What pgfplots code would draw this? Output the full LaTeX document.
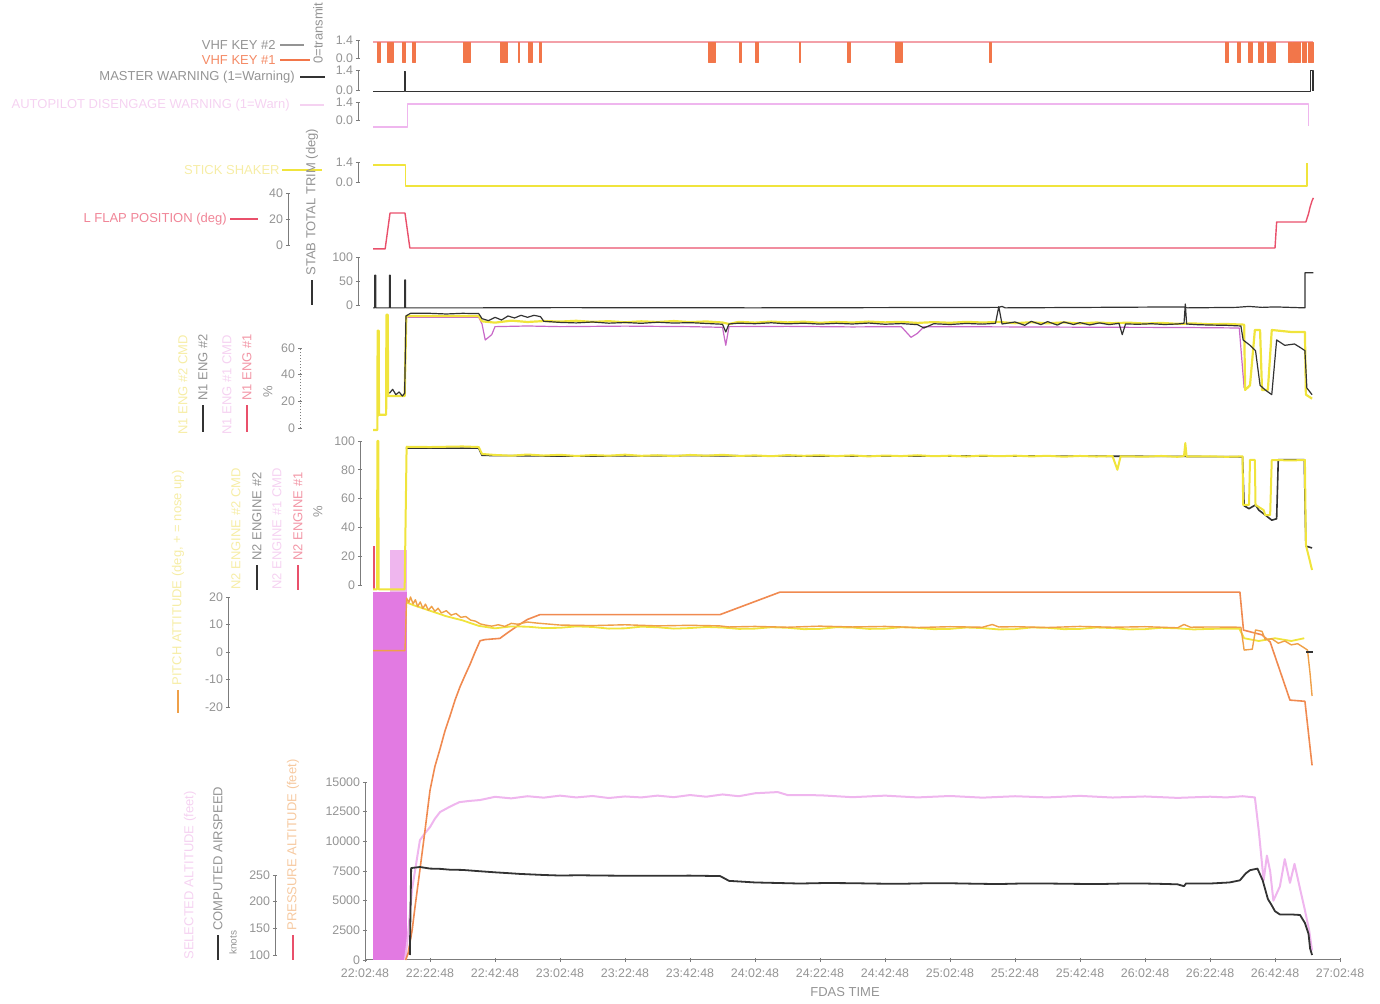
\documentclass[border=0pt]{standalone}
\usepackage{fontspec}
\setmainfont{Liberation Sans}
\usepackage{pgfplots}
\pgfplotsset{compat=1.18}
\definecolor{txtgray}{HTML}{949494}
\definecolor{axgray}{HTML}{7C7C7C}
\definecolor{blk}{HTML}{333333}
\definecolor{vorange}{HTML}{F2764A}
\definecolor{vred}{HTML}{F3A0A8}
\definecolor{fred}{HTML}{E9506B}
\definecolor{yel}{HTML}{F0E43C}
\definecolor{yelfaint}{HTML}{F6EDA6}
\definecolor{pinkl}{HTML}{EFB6EE}
\definecolor{pinkfaint}{HTML}{F5D2F1}
\definecolor{magfill}{HTML}{E27AE2}
\definecolor{magl}{HTML}{C868C8}
\definecolor{orng}{HTML}{EFA048}
\definecolor{altor}{HTML}{F08A50}
\definecolor{orfaint}{HTML}{F6C9A0}
\pgfplotsset{
  every axis plot/.append style={line join=round},
  dataax/.style={scale only axis, width=487.5pt, xmin=0, xmax=300, clip=false, hide axis, anchor=south west},
  scaleax/.style={scale only axis, width=1pt, xmin=0, xmax=1, clip=false, anchor=south west,
    axis x line=none, axis y line*=left, axis line style={axgray, line width=0.5pt},
    ytick style={axgray, line width=0.4pt}, major tick length=2.2pt, tick align=center,
    yticklabel style={font=\fontsize{6.2}{7}\selectfont, text=txtgray, inner sep=1.2pt},
    scaled y ticks=false,
    /pgf/number format/assume math mode=true, /pgf/number format/1000 sep={}},
}
\tikzset{lbl/.style={font=\fontsize{6.5}{7}\selectfont, inner sep=0pt}}
\newcommand{\vb}[2]{\addplot[fill=vorange, draw=vorange, line width=0.2pt] coordinates {(#1,-0.31)(#1,1.24)(#2,1.24)(#2,-0.31)} -- cycle;}
\begin{document}
\begin{tikzpicture}
\path[use as bounding box] (0pt,0pt) rectangle (690pt,502pt);

% ---------- P10: altitude / airspeed ----------
\begin{axis}[scale only axis, width=487.5pt, height=89pt, at={(182.5pt,22pt)}, anchor=south west,
  xmin=0, xmax=300, ymin=0, ymax=15000, clip=false,
  axis x line*=bottom, axis y line*=left, axis line style={axgray, line width=0.5pt},
  tick style={axgray, line width=0.4pt}, major tick length=2.2pt, tick align=center,
  scaled y ticks=false,
  xtick={0,20,...,300},
  xticklabels={22:02:48,22:22:48,22:42:48,23:02:48,23:22:48,23:42:48,24:02:48,24:22:48,24:42:48,25:02:48,25:22:48,25:42:48,26:02:48,26:22:48,26:42:48,27:02:48},
  ytick={0,2500,5000,7500,10000,12500,15000},
  ticklabel style={font=\fontsize{6.2}{7}\selectfont, text=txtgray, inner sep=1.2pt},
  xticklabel style={yshift=-1.8pt},
  /pgf/number format/assume math mode=true, /pgf/number format/1000 sep={}]
\addplot[fill=magfill, draw=none] coordinates {(2.5,0)(2.5,31000)(12.9,31000)(12.9,0)} -- cycle;
\addplot[fill=pinkl, draw=none] coordinates {(7.7,31000)(7.7,34550)(12.9,34550)(12.9,31000)} -- cycle;
\addplot[pinkl, line width=1pt] coordinates {(12.3,0)(13,1500)(14.5,6000)(16.9,10100)(18.5,10700)(20,11200)(21.5,11900)(23.1,12470)(26,12900)(29,13300)(32,13400)(35.4,13480)(40,13750)(45,13620)(50,13800)(55,13680)(60,13850)(65,13700)(70,13820)(75,13650)(80,13780)(85,13700)(90,13850)(95,13720)(100,13900)(105,13760)(110,13950)(115,13800)(120,14050)(127,14150)(130,13900)(140,13880)(150,13720)(160,13850)(170,13700)(180,13820)(190,13680)(200,13800)(210,13700)(220,13830)(230,13690)(240,13780)(250,13660)(260,13760)(265,13700)(270,13800)(273.8,13700)(275,10900)(276.5,6700)(277.5,8800)(278.5,7500)(279.5,5000)(281.5,6200)(283,8500)(284.6,6500)(286,8100)(287.7,6000)(289.2,4200)(290.5,2500)(291.4,800)};
\addplot[altor, line width=0.8pt] coordinates {(12.5,0)(13.2,500)(14.5,2500)(15.4,4500)(16.9,7600)(18.5,11000)(20,14300)(21.5,16300)(23.1,17800)(24.6,19300)(26.2,20600)(27.7,21900)(29.2,23000)(30.8,24000)(32.3,24900)(33.8,25900)(35.4,26900)(36.9,27000)(41.5,27100)(44,27600)(47.7,28300)(50,28700)(53.8,29100)(60,29100)(109.2,29100)(127.7,31000)(269.2,31000)(270.3,27800)(276,27400)(278.5,26800)(284.6,21900)(289.2,21800)(291.4,16400)};
\end{axis}
\begin{axis}[dataax, at={(182.5pt,24.5pt)}, height=40pt, ymin=100, ymax=250]
\addplot[blk, line width=0.9pt] coordinates {(13.8,100)(14.2,263)(16.9,265)(20,262)(23.1,261.5)(26,260)(30,259.5)(35.4,257)(40,255)(44,253.5)(47.7,252)(55,250)(60,249)(66,249.5)(72,249)(80,248.6)(90,248.5)(100,248.8)(109.2,248)(110.5,244)(112,239)(120,236)(127,235)(133.8,234)(142,235)(150,234.6)(158,233.8)(165,233.5)(172,234.4)(180,234.5)(188,233.6)(195,233)(203,234.2)(210,234)(218,233.4)(226,233)(233,234)(240,234)(246,233.2)(250,232.5)(252,229)(252.6,234)(260,234)(266,236)(269.2,240)(271,253)(272.3,259)(274.6,262)(276.2,240)(277.8,205)(279,193)(280,182)(281.5,176)(285,176)(287.7,175)(289.2,160)(290.3,140)(290.8,112)(291.4,100)};
\end{axis}
\begin{axis}[scaleax, at={(137.5pt,24.5pt)}, height=40pt, ymin=100, ymax=250, ytick={100,150,200,250}]
\end{axis}

% ---------- P9: attitude ----------
\begin{axis}[dataax, at={(182.5pt,148.5pt)}, height=55pt, ymin=-20, ymax=20]
\addplot[yel, line width=0.9pt] coordinates {(12.8,18)(15,17)(20,15)(25,13)(30,11.5)(35,9.5)(40,8.6)(45,9.3)(50,9.2)(55,8.7)(60,8.8)(65,9.3)(70,9.1)(75,8.5)(80,8.6)(85,9.2)(90,9.0)(95,8.5)(100,8.7)(105,9.1)(110,8.9)(115,8.4)(120,8.5)(125,9.0)(130,8.8)(135,8.3)(140,8.4)(145,9.0)(150,8.9)(155,8.4)(160,8.5)(165,9.0)(170,8.8)(175,8.3)(180,8.4)(185,8.9)(190,8.7)(195,8.2)(200,8.3)(205,8.9)(210,8.8)(215,8.3)(220,8.4)(225,8.9)(230,8.7)(235,8.2)(240,8.3)(245,8.8)(250,8.6)(255,8.2)(260,8.4)(269,8.5)(270.5,5)(275,4)(280,5)(285,4)(289,5)};
\addplot[orng, line width=0.7pt] coordinates {(2.5,0.5)(12.3,0.5)(12.8,19.6)(13.5,18)(14,20)(14.8,17.5)(15.5,19)(16.2,16.5)(17,18.2)(17.8,15.8)(18.6,17.4)(19.5,15.2)(20.5,16.6)(21.5,14.8)(22.5,15.9)(23.5,14.2)(25,15)(26.5,13.4)(28,14)(29.5,12.6)(31,12.9)(32.5,11.6)(34,11.2)(35.5,10.2)(37,9.8)(39,9.4)(41,9.9)(43,9.3)(45,10.4)(47,10.1)(50,10.9)(53,10.5)(56,10.2)(60,9.8)(70,9.6)(80,9.9)(90,9.5)(100,9.7)(109,9.5)(112,9.1)(120,9.3)(130,9.0)(140,9.4)(150,9.1)(160,9.3)(170,8.9)(180,9.2)(190,9.0)(193,10)(195,9.1)(200,9.2)(210,8.9)(220,9.3)(230,9.0)(240,9.2)(250,8.8)(252,10)(254,9)(260,9.1)(269.5,9)(270.5,0.7)(273,1)(274,8)(276,7.5)(277,4.5)(279,4.8)(281,3.2)(283,4)(285,2.6)(287,3)(289,1.5)(290,0.7)(290.8,-8)(291.4,-16)};
\addplot[blk, line width=0.7pt] coordinates {(289.5,0)(291.8,0)};
\end{axis}
\begin{axis}[scaleax, at={(114pt,148.5pt)}, height=55pt, ymin=-20, ymax=20, ytick={-20,-10,0,10,20}]
\end{axis}

% ---------- P8: N2 ----------
\begin{axis}[dataax, at={(182.5pt,209.5pt)}, height=72pt, ymin=0, ymax=100]
\addplot[fred, line width=0.7pt] coordinates {(2.8,-3)(2.8,27)};
\addplot[blk, line width=0.8pt] coordinates {(12.6,95)(35,95)(36,90)(60,89.5)(100,89.8)(150,89.5)(200,89.6)(250,89.3)(270,89)(270.5,55)(272,53)(274,55.6)(275,52)(277,48.6)(279,45)(280.5,46)(281,87)(289,87)(289.5,27)(291.4,25.7)};
\addplot[yel, line width=1pt] coordinates {(2.5,-3)(3.7,-3)(3.8,100)(4.1,100)(4.2,-3)(12.2,-3)(12.8,96)(20,95.8)(30,96.2)(35,95.8)(36,91)(40,90.3)(45,89.8)(50,90.6)(55,89.9)(60,90.4)(65,89.6)(70,90.2)(75,89.8)(80,90.5)(85,89.7)(90,90.1)(95,89.5)(100,90.3)(105,89.8)(110,90.4)(115,89.6)(120,90)(125,89.4)(130,90.2)(135,89.7)(140,90.1)(145,89.5)(150,90)(155,89.3)(160,89.9)(165,89.5)(170,90.1)(175,89.4)(180,89.8)(185,89.2)(190,89.9)(195,89.4)(200,89.8)(205,89.3)(210,89.7)(215,89.1)(220,89.6)(225,89.2)(230,89.5)(231.5,80)(232.5,89.4)(240,89.1)(245,89.6)(250,89)(252,89.5)(252.4,98.6)(252.8,89.2)(260,89.4)(265,89)(270,89.3)(270.2,55.6)(272,55.6)(272.3,86.8)(273.8,86.8)(274,55.6)(276.5,52)(277,48.6)(278.5,48.6)(279,86.8)(285,86.5)(289.2,86.8)(289.5,27.8)(291.4,10.4)};
\end{axis}
\begin{axis}[scaleax, at={(180pt,209.5pt)}, height=72pt, ymin=0, ymax=100, ytick={0,20,40,60,80,100}]
\end{axis}

% ---------- P7: N1 ----------
\begin{axis}[dataax, at={(182.5pt,288pt)}, height=40pt, ymin=0, ymax=60]
\addplot[magl, line width=0.6pt] coordinates {(13,83)(35,83)(36,78)(37,66)(39,70)(40,76)(50,76.5)(60,76)(80,76.4)(100,76)(110,75.5)(111,62)(112,76)(130,76.2)(150,75.8)(165,76)(168,68)(170,71)(172,76)(200,75.8)(230,75.5)(250,75.4)(269,75)(270.5,30)};
\addplot[yel, line width=1.1pt] coordinates {(2.5,-1.5)(3.8,-1.5)(3.9,73)(4.2,73)(4.3,10)(6.5,10)(6.6,85)(7.0,85)(7.1,24)(12.2,24)(12.7,84)(35,84)(36,80)(40,79)(45,80.5)(50,79.5)(55,80.2)(60,79.8)(65,80.4)(70,79.6)(75,80.1)(80,79.3)(85,80)(90,79.5)(95,80.2)(100,79.4)(105,79.9)(110,79.1)(112,78)(115,79.6)(120,79)(125,79.8)(130,79.2)(135,79.7)(140,78.9)(145,79.5)(150,79.1)(155,79.8)(160,79.2)(165,79.6)(170,78.8)(175,79.4)(180,78.9)(185,79.6)(190,79.1)(195,79.5)(200,78.6)(205,79.3)(210,78.5)(215,79.2)(220,78.4)(225,79.1)(230,78.6)(235,79)(240,78.3)(245,78.8)(250,78.1)(255,78.4)(260,77.8)(265,78)(270.5,77.5)(270.8,28.5)(272.3,32)(273.8,73.5)(275.4,73.5)(276,28.5)(277.8,28.5)(279,73.5)(285,72)(289.2,72)(289.5,25)(291.4,22)};
\addplot[blk, line width=0.6pt] coordinates {(7.5,26)(8.5,29)(9.5,25)(10.5,27)(11.5,24)(12.2,26)(12.6,84)(14,86)(20,86)(25,85.5)(30,86)(35,85.8)(36,82)(38,80.5)(40,83)(42,81)(44,84)(46,82.5)(48,84.5)(50,83)(52,84.5)(54,83.5)(55,80)(60,79.2)(65,78.8)(70,79.5)(75,78.6)(80,79.1)(85,78.5)(90,79.3)(95,78.7)(100,79.0)(105,78.4)(110,77.8)(111,72)(112,78)(115,78.6)(120,78.2)(125,78.9)(130,78.1)(135,78.6)(140,77.9)(145,78.5)(150,78.0)(155,78.7)(160,77.8)(165,78.3)(170,77.5)(172,75)(175,78.2)(180,77.6)(185,78.4)(190,77.9)(194,78.5)(195,91)(196,78)(200,79.5)(203,77)(205,80)(208,77.5)(210,79.8)(213,77.2)(215,79.5)(218,77.6)(220,79)(223,77.3)(226,78.8)(229,77.5)(232,78.5)(233,70)(234,78)(238,77.8)(242,78.2)(246,77.6)(250,78)(252,78.5)(252.4,93)(252.8,78)(256,77.5)(260,77.2)(265,77)(269.5,76.5)(270.2,66)(272.3,62)(274,58)(275.4,32)(277,28.5)(279,25)(280.5,66)(283,62)(286,63)(288,60)(289.2,58)(289.8,30)(291.4,25)};
\end{axis}
\begin{axis}[scaleax, at={(150pt,288pt)}, height=40pt, ymin=0, ymax=60, ytick={0,20,40,60}, axis line style={axgray, line width=0.5pt, densely dotted}]
\end{axis}

% ---------- P6 ----------
\begin{axis}[dataax, at={(182.5pt,349.5pt)}, height=24pt, ymin=0, ymax=100]
\addplot[blk, line width=0.6pt] coordinates {(2.5,-6)(3.0,-6)(3.0,62)(3.3,62)(3.3,-6)(7.5,-6)(7.5,62)(7.8,62)(7.8,-6)(12.2,-6)(12.2,52)(12.5,52)(12.5,-6)(35,-6)(60,-5.5)(120,-6)(195,-5)(196,-3)(197,-6)(252,-4)(253,-6)(268,-5)(272,-3)(276,-5)(280,-4)(289.2,-6)(289.2,67)(291.8,67)};
\end{axis}
\begin{axis}[scaleax, at={(179pt,349.5pt)}, height=24pt, ymin=0, ymax=100, ytick={0,50,100}]
\end{axis}

% ---------- P5 flap ----------
\begin{axis}[dataax, at={(182.5pt,379.5pt)}, height=26pt, ymin=0, ymax=40]
\addplot[fred, line width=0.7pt] coordinates {(2.5,-3)(6.2,-3)(7.7,24.6)(12.3,24.6)(13.8,-2.3)(280,-2.3)(280.5,17.7)(289.5,17.7)(290.3,24)(290.8,29.2)(291.4,34)(291.8,36.2)};
\end{axis}
\begin{axis}[scaleax, at={(144pt,379.5pt)}, height=26pt, ymin=0, ymax=40, ytick={0,20,40}]
\end{axis}

% ---------- P4 yellow ----------
\begin{axis}[dataax, at={(182.5pt,411pt)}, height=10pt, ymin=0, ymax=1.4]
\addplot[yel, line width=0.7pt] coordinates {(2.5,1.19)(12.5,1.19)(12.5,-0.28)(289.8,-0.28)(289.8,1.3)};
\end{axis}
\begin{axis}[scaleax, at={(179pt,411pt)}, height=10pt, ymin=0, ymax=1.4, ytick={0,1.4}, yticklabels={0.0,1.4}]
\end{axis}

% ---------- P3 pink ----------
\begin{axis}[dataax, at={(182.5pt,442pt)}, height=9pt, ymin=0, ymax=1.4]
\addplot[pinkl, line width=0.6pt] coordinates {(2.5,-0.54)(13.0,-0.54)(13.0,1.24)(290.2,1.24)(290.2,-0.5)};
\end{axis}
\begin{axis}[scaleax, at={(179pt,442pt)}, height=9pt, ymin=0, ymax=1.4, ytick={0,1.4}, yticklabels={0.0,1.4}]
\end{axis}

% ---------- P2 master warning ----------
\begin{axis}[dataax, at={(182.5pt,457pt)}, height=10pt, ymin=0, ymax=1.4]
\addplot[blk, line width=0.7pt] coordinates {(2.5,-0.1)(12.2,-0.1)(12.2,1.3)(12.5,1.3)(12.5,-0.1)(291.0,-0.1)(291.0,1.35)(291.7,1.35)(291.7,-0.1)};
\end{axis}
\begin{axis}[scaleax, at={(179pt,457pt)}, height=10pt, ymin=0, ymax=1.4, ytick={0,1.4}, yticklabels={0.0,1.4}]
\end{axis}

% ---------- P1 VHF keys ----------
\begin{axis}[dataax, at={(182.5pt,473pt)}, height=9pt, ymin=0, ymax=1.4]
\addplot[vred, line width=0.6pt] coordinates {(2.5,1.24)(291.7,1.24)};
\vb{3.7}{4.6}\vb{6.8}{8.6}\vb{11.4}{12.3}\vb{14.5}{15.4}\vb{30.2}{32.3}\vb{41.5}{43.7}
\vb{47.0}{47.5}\vb{50.2}{51.4}\vb{53.6}{54.1}\vb{105.5}{107.7}\vb{115.2}{115.7}\vb{120.0}{120.9}
\vb{133.6}{134.0}\vb{148.3}{149.2}\vb{163.1}{165.2}\vb{192.1}{192.6}
\vb{264.6}{265.5}\vb{268.3}{269.2}\vb{271.7}{272.9}\vb{274.8}{276.3}\vb{277.5}{280.0}
\vb{284.0}{285.2}\vb{285.5}{287.7}\vb{288.3}{289.5}\vb{290.2}{291.7}
\end{axis}
\begin{axis}[scaleax, at={(179pt,473pt)}, height=9pt, ymin=0, ymax=1.4, ytick={0,1.4}, yticklabels={0.0,1.4}]
\end{axis}

% ---------- labels ----------
\node[lbl, rotate=90, anchor=west, text=txtgray] at (159pt,470pt) {0=transmit};
\node[lbl, anchor=east, text=txtgray] at (138pt,479.5pt) {VHF KEY \#2};
\draw[txtgray, line width=0.6pt] (140pt,479.5pt) -- (152pt,479.5pt);
\node[lbl, anchor=east, text=vorange!85] at (138pt,472pt) {VHF KEY \#1};
\draw[vorange, line width=0.8pt] (140pt,472pt) -- (155pt,472pt);
\node[lbl, anchor=east, text=txtgray] at (147.5pt,463.5pt) {MASTER WARNING (1=Warning)};
\draw[blk, line width=1pt] (150pt,463.5pt) -- (162.5pt,463.5pt);
\node[lbl, anchor=east, text=pinkfaint] at (145pt,449.5pt) {AUTOPILOT DISENGAGE WARNING (1=Warn)};
\draw[pinkfaint, line width=0.8pt] (150pt,449.5pt) -- (162pt,449.5pt);
\node[lbl, anchor=east, text=yelfaint] at (140pt,417pt) {STICK SHAKER};
\draw[yel, line width=0.8pt] (141pt,417pt) -- (161pt,417pt);
\node[lbl, anchor=east, text=fred!70] at (113.5pt,392.5pt) {L FLAP POSITION (deg)};
\draw[fred, line width=0.8pt] (115pt,392.5pt) -- (129pt,392.5pt);
\draw[blk, line width=0.8pt] (156pt,349.5pt) -- (156pt,362pt);
\node[lbl, rotate=90, anchor=west, text=txtgray] at (156pt,364pt) {STAB TOTAL TRIM (deg)};

% N1 labels
\node[lbl, rotate=90, anchor=west, text=yelfaint] at (91.5pt,284.5pt) {N1 ENG \#2 CMD};
\draw[blk, line width=1pt] (101.5pt,286pt) -- (101.5pt,299.5pt);
\node[lbl, rotate=90, anchor=west, text=txtgray] at (101.5pt,301.5pt) {N1 ENG \#2};
\node[lbl, rotate=90, anchor=west, text=pinkfaint] at (113.5pt,284.5pt) {N1 ENG \#1 CMD};
\draw[fred, line width=1pt] (123.5pt,286pt) -- (123.5pt,299.5pt);
\node[lbl, rotate=90, anchor=west, text=fred!60] at (123.5pt,301.5pt) {N1 ENG \#1};
\node[lbl, rotate=90, text=txtgray] at (134pt,306pt) {\%};

% N2 labels
\node[lbl, rotate=90, anchor=west, text=yelfaint] at (118pt,207pt) {N2 ENGINE \#2 CMD};
\draw[blk, line width=1pt] (128.5pt,207pt) -- (128.5pt,219.5pt);
\node[lbl, rotate=90, anchor=west, text=txtgray] at (128.5pt,221.5pt) {N2 ENGINE \#2};
\node[lbl, rotate=90, anchor=west, text=pinkfaint] at (138.5pt,207pt) {N2 ENGINE \#1 CMD};
\draw[fred, line width=1pt] (149pt,207pt) -- (149pt,219.5pt);
\node[lbl, rotate=90, anchor=west, text=fred!60] at (149pt,221.5pt) {N2 ENGINE \#1};
\node[lbl, rotate=90, text=txtgray] at (159pt,246pt) {\%};

% attitude label
\draw[orng, line width=1pt] (89pt,145.5pt) -- (89pt,157pt);
\node[lbl, rotate=90, anchor=west, text=yelfaint] at (89pt,159pt) {PITCH ATTITUDE (deg, + = nose up)};

% bottom labels
\node[lbl, rotate=90, anchor=west, text=pinkfaint] at (95pt,22pt) {SELECTED ALTITUDE (feet)};
\draw[blk, line width=1pt] (109pt,22pt) -- (109pt,34.5pt);
\node[lbl, rotate=90, anchor=west, text=txtgray] at (109pt,36.5pt) {COMPUTED AIRSPEED};
\node[rotate=90, anchor=west, inner sep=0pt, font=\fontsize{5}{6}\selectfont, text=txtgray] at (116.5pt,24.5pt) {knots};
\draw[fred, line width=1pt] (146.5pt,22pt) -- (146.5pt,34.5pt);
\node[lbl, rotate=90, anchor=west, text=orfaint] at (146.5pt,36.5pt) {PRESSURE ALTITUDE (feet)};
\node[lbl, text=txtgray] at (422.5pt,6pt) {FDAS TIME};
\end{tikzpicture}
\end{document}
